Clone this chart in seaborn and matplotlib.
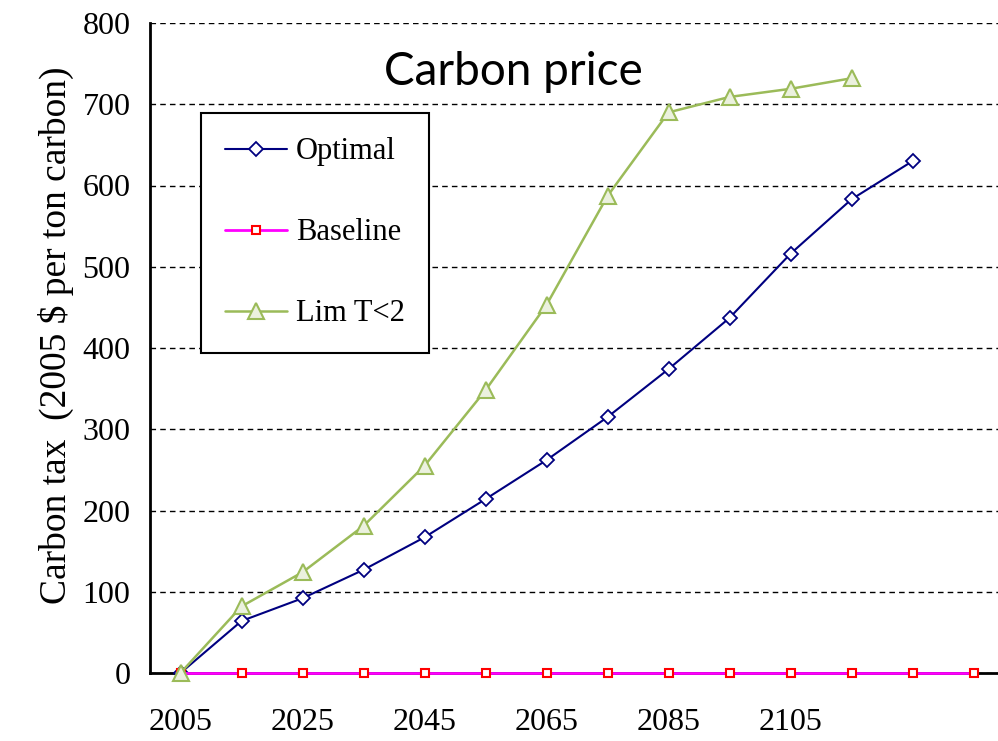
import pandas as pd
import matplotlib.pyplot as plt
import seaborn as sns

sns.set_style("white")
plt.rcParams["font.family"] = ["Liberation Serif", "DejaVu Serif"]
plt.rcParams["text.color"] = "black"
plt.rcParams["axes.labelcolor"] = "black"
plt.rcParams["xtick.color"] = "black"
plt.rcParams["ytick.color"] = "black"

# Data
years = [2005, 2015, 2025, 2035, 2045, 2055, 2065, 2075, 2085, 2095, 2105, 2115, 2125, 2135]
optimal = [0, 64, 92, 127, 167, 214, 262, 315, 374, 437, 516, 583, 630]
baseline = [0, 0, 0, 0, 0, 0, 0, 0, 0, 0, 0, 0, 0, 0]
lim_t2 = [0, 82, 124, 181, 255, 348, 453, 587, 690, 709, 719, 732]
label_years = [2005, 2025, 2045, 2065, 2085, 2105]

df_opt = pd.DataFrame({"Year": years[:len(optimal)], "Tax": optimal})
df_base = pd.DataFrame({"Year": years[:len(baseline)], "Tax": baseline})
df_lim = pd.DataFrame({"Year": years[:len(lim_t2)], "Tax": lim_t2})

fig = plt.figure(figsize=(9.98, 7.41), dpi=100)
ax = fig.add_axes([150 / 998, 68 / 741, 854 / 998, 650 / 741])

ax.set_ylim(0, 800)
ax.set_xlim(2000, 2140)
ax.set_yticks(range(0, 801, 100))
ax.yaxis.grid(True, color="black", linestyle=(0, (4, 3)), linewidth=1.0)
ax.set_axisbelow(True)

sns.lineplot(data=df_opt, x="Year", y="Tax", ax=ax, color="#000080", linewidth=1.5,
             marker="D", markersize=7, markerfacecolor="white", markeredgecolor="#000080",
             markeredgewidth=1.3, label="Optimal", zorder=4, clip_on=False)
sns.lineplot(data=df_base, x="Year", y="Tax", ax=ax, color="#FF00FF", linewidth=2,
             marker="s", markersize=6, markerfacecolor="white", markeredgecolor="#FF0000",
             markeredgewidth=1.5, label="Baseline", zorder=5, clip_on=False)
sns.lineplot(data=df_lim, x="Year", y="Tax", ax=ax, color="#9BBB59", linewidth=1.8,
             marker="^", markersize=11, markerfacecolor="#EBF1DE", markeredgecolor="#9BBB59",
             markeredgewidth=1.5, label="Lim T<2", zorder=6, clip_on=False)

# category-style x axis: ticks between points, labels on every other point
ax.set_xticks(range(2000, 2141, 10))
ax.set_xticklabels([])
ax.set_xticks(label_years, minor=True)
ax.set_xticklabels([str(y) for y in label_years], minor=True, fontsize=23)
ax.tick_params(axis="x", which="major", direction="out", length=9, width=2, color="black")
ax.tick_params(axis="x", which="minor", length=0, pad=25)
ax.tick_params(axis="y", direction="out", length=8, width=2, color="black", labelsize=23, pad=6)

for s in ["top", "right"]:
    ax.spines[s].set_visible(False)
for s in ["left", "bottom"]:
    ax.spines[s].set_color("black")
    ax.spines[s].set_linewidth(2)

ax.set_xlabel("")
ax.set_ylabel("Carbon tax  (2005 $ per ton carbon)", fontsize=27, labelpad=6)
ax.yaxis.label.set_y(0.52)

ax.text(0.425, 0.925, "Carbon price", transform=ax.transAxes, ha="center", va="center",
        fontsize=33, color="black", family=["Lato", "DejaVu Sans"])

leg = ax.legend(loc="upper left", bbox_to_anchor=(51 / 854, 560 / 650), fontsize=22,
                frameon=True, fancybox=False, shadow=False, framealpha=1, borderpad=0.8,
                borderaxespad=0, labelspacing=1.7, handlelength=2.0, handletextpad=0.3)
leg.get_frame().set_edgecolor("black")
leg.get_frame().set_linewidth(1.5)

fig.savefig("out.png", dpi=100)
